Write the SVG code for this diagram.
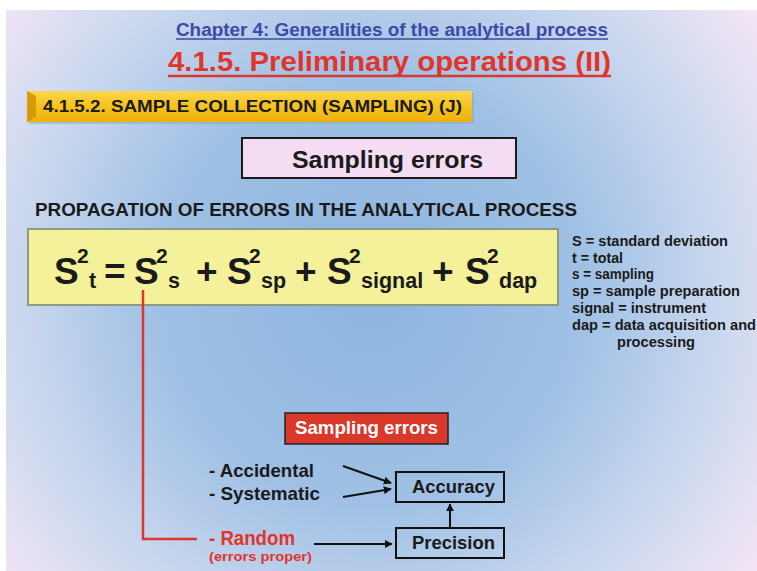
<svg xmlns="http://www.w3.org/2000/svg" width="757" height="571" viewBox="0 0 757 571">
<defs>
<radialGradient id="bg" gradientUnits="userSpaceOnUse" cx="370" cy="290" r="480">
<stop offset="0" stop-color="#8db4df"/>
<stop offset="0.45" stop-color="#a0c1e5"/>
<stop offset="0.75" stop-color="#cdd9ef"/>
<stop offset="1" stop-color="#f5e6f6"/>
</radialGradient>
<linearGradient id="gold" x1="0" y1="0" x2="0" y2="1">
<stop offset="0" stop-color="#fcd64e"/>
<stop offset="0.5" stop-color="#f6c21c"/>
<stop offset="1" stop-color="#eeb10c"/>
</linearGradient>
<marker id="ah" viewBox="0 0 10 10" refX="9" refY="5" markerWidth="8" markerHeight="8" markerUnits="userSpaceOnUse" orient="auto">
<path d="M0,0 L10,5 L0,10 z" fill="#111"/>
</marker>
</defs>
<style>
text{font-family:"Liberation Sans",Arial,sans-serif;font-weight:bold;fill:#1a1a1a}
.f{font-size:37px}
.sup{font-size:21px}
.sub{font-size:21.5px}
.leg{font-size:14px}
.lbl{font-size:18.5px}
.box{fill:none;stroke:#111;stroke-width:2}
.conn{stroke:#111;stroke-width:2;fill:none;marker-end:url(#ah)}
</style>
<rect x="0" y="0" width="757" height="571" fill="#ffffff"/>
<rect x="6" y="10" width="751" height="561" fill="url(#bg)"/>

<g id="chapter-title">
<text x="176" y="36" font-size="18" style="fill:#3c4aa6" textLength="432" lengthAdjust="spacingAndGlyphs">Chapter 4: Generalities of the analytical process</text>
<line x1="176" y1="39" x2="608" y2="39" stroke="#3c4aa6" stroke-width="1.5"/>
</g>
<g id="section-title">
<text x="168" y="71" font-size="27" style="fill:#e0352b" textLength="443" lengthAdjust="spacingAndGlyphs">4.1.5. Preliminary operations (II)</text>
<line x1="168" y1="76" x2="611" y2="76" stroke="#e0352b" stroke-width="2.5"/>
</g>
<g id="subsection-bar">
<rect x="29" y="93" width="445" height="31" fill="#8aa3c0" opacity="0.5"/>
<rect x="27" y="91" width="445" height="31" fill="url(#gold)"/>
<polygon points="27,91 36,96 36,117 27,122" fill="#d99a08"/>
<text x="43" y="112" font-size="17" textLength="419" lengthAdjust="spacingAndGlyphs">4.1.5.2. SAMPLE COLLECTION (SAMPLING) (J)</text>
</g>
<g id="sampling-errors-header">
<rect x="242" y="138" width="274" height="40" fill="#f4dcf3" stroke="#1a1a1a" stroke-width="2"/>
<text x="292" y="168" font-size="24" textLength="191" lengthAdjust="spacingAndGlyphs">Sampling errors</text>
</g>
<g id="propagation-heading">
<text x="35" y="216" font-size="17.5" textLength="542" lengthAdjust="spacingAndGlyphs">PROPAGATION OF ERRORS IN THE ANALYTICAL PROCESS</text>
</g>
<g id="formula">
<rect x="28" y="229" width="530" height="76" fill="#f5f19a" stroke="#8c9c80" stroke-width="2"/>
<text class="f" x="54" y="284">S<tspan class="sup" x="77" y="263">2</tspan><tspan class="sub" x="89" y="288">t</tspan></text>
<text class="f" x="104" y="284">=</text>
<text class="f" x="134" y="284">S<tspan class="sup" x="156" y="263">2</tspan><tspan class="sub" x="168" y="288">s</tspan></text>
<text class="f" x="196" y="284">+</text>
<text class="f" x="227" y="284">S<tspan class="sup" x="249" y="263">2</tspan><tspan class="sub" x="261" y="288">sp</tspan></text>
<text class="f" x="295" y="284">+</text>
<text class="f" x="327" y="284">S<tspan class="sup" x="349" y="263">2</tspan><tspan class="sub" x="361" y="288">signal</tspan></text>
<text class="f" x="432" y="284">+</text>
<text class="f" x="465" y="284">S<tspan class="sup" x="487" y="263">2</tspan><tspan class="sub" x="499" y="288">dap</tspan></text>
</g>
<g id="legend">
<text class="leg" x="572" y="246" textLength="156" lengthAdjust="spacingAndGlyphs">S = standard deviation</text>
<text class="leg" x="572" y="263" textLength="51" lengthAdjust="spacingAndGlyphs">t = total</text>
<text class="leg" x="572" y="279" textLength="82" lengthAdjust="spacingAndGlyphs">s = sampling</text>
<text class="leg" x="572" y="296" textLength="168" lengthAdjust="spacingAndGlyphs">sp = sample preparation</text>
<text class="leg" x="572" y="313" textLength="134" lengthAdjust="spacingAndGlyphs">signal = instrument</text>
<text class="leg" x="572" y="330" textLength="184" lengthAdjust="spacingAndGlyphs">dap = data acquisition and</text>
<text class="leg" x="617" y="347" textLength="78" lengthAdjust="spacingAndGlyphs">processing</text>
</g>
<g id="sampling-errors-red">
<rect x="285" y="413" width="163" height="31" fill="#d9382a" stroke="#222" stroke-width="1.5"/>
<text x="295" y="434" font-size="18.5" style="fill:#ffffff" textLength="143" lengthAdjust="spacingAndGlyphs">Sampling errors</text>
</g>
<g id="accidental">
<text class="lbl" x="209" y="477" textLength="105" lengthAdjust="spacingAndGlyphs">- Accidental</text>
</g>
<g id="systematic">
<text class="lbl" x="209" y="500" textLength="111" lengthAdjust="spacingAndGlyphs">- Systematic</text>
</g>
<g id="random">
<text x="209" y="545" font-size="19.5" style="fill:#e0352b" textLength="86" lengthAdjust="spacingAndGlyphs">- Random</text>
<text x="209" y="561" font-size="13.5" style="fill:#e0352b" textLength="103" lengthAdjust="spacingAndGlyphs">(errors proper)</text>
</g>
<g id="accuracy">
<rect class="box" x="396" y="472" width="108" height="30"/>
<text class="lbl" x="412" y="493" textLength="83" lengthAdjust="spacingAndGlyphs">Accuracy</text>
</g>
<g id="precision">
<rect class="box" x="396" y="528" width="108" height="30"/>
<text class="lbl" x="412" y="549" textLength="83" lengthAdjust="spacingAndGlyphs">Precision</text>
</g>
<g id="connectors">
<polyline points="143,290 143,539 197,539" fill="none" stroke="#e0352b" stroke-width="2.5"/>
<line class="conn" x1="343" y1="466" x2="391" y2="483"/>
<line class="conn" x1="343" y1="497" x2="391" y2="489"/>
<line class="conn" x1="314" y1="544" x2="392" y2="544"/>
<line class="conn" x1="450" y1="527" x2="450" y2="504"/>
</g>
</svg>
